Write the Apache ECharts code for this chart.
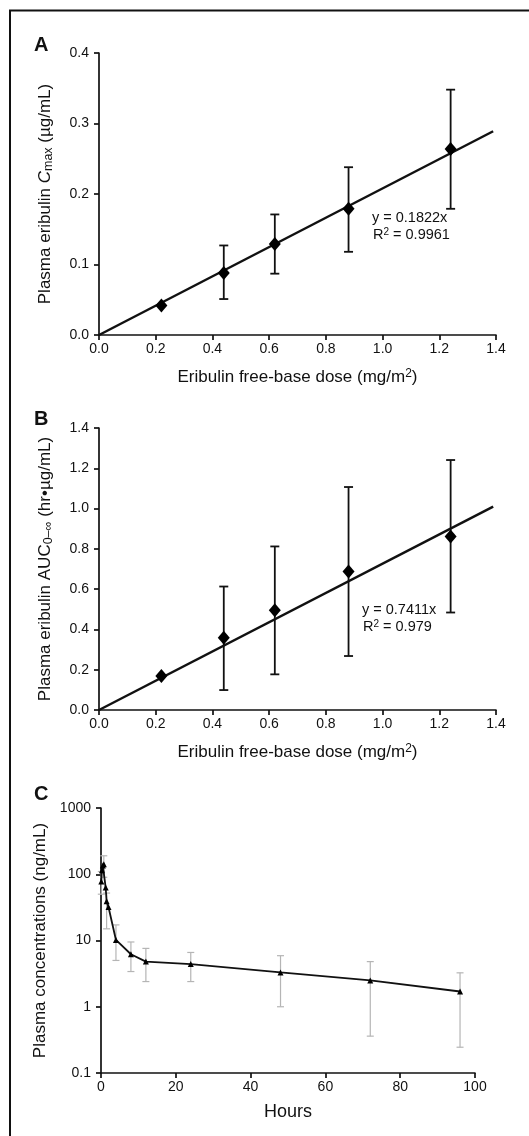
<!DOCTYPE html>
<html>
<head>
<meta charset="utf-8">
<script src="https://cdn.jsdelivr.net/npm/echarts@6/dist/echarts.min.js"></script>
<style>
html,body{margin:0;padding:0;background:#fff;}
#chart{width:529px;height:1136px;}
</style>
</head>
<body>
<div id="chart"></div>
<script>
// ---------- Data ----------
// Panel A: Cmax vs dose
const doseA = [0.22, 0.44, 0.62, 0.88, 1.24];
const cmaxMean = [0.042, 0.088, 0.129, 0.179, 0.264];
const cmaxLow  = [null, 0.051, 0.087, 0.118, 0.179];
const cmaxHigh = [null, 0.127, 0.171, 0.238, 0.348];
const fitLineA = [[0, 0], [1.39, 0.289]];

// Panel B: AUC vs dose
const doseB = [0.22, 0.44, 0.62, 0.88, 1.24];
const aucMean = [0.169, 0.359, 0.495, 0.687, 0.861];
const aucLow  = [null, 0.099, 0.177, 0.268, 0.484];
const aucHigh = [null, 0.613, 0.812, 1.107, 1.241];
const fitLineB = [[0, 0], [1.39, 1.01]];

// Panel C: concentration-time profile
const hoursC = [0.08, 0.25, 0.5, 0.75, 1.25, 1.5, 2, 4, 8, 12, 24, 48, 72, 96];
const concC  = [78, 115, 135, 142, 63, 39, 32, 10.2, 6.2, 4.8, 4.4, 3.3, 2.5, 1.7];
const concLow  = [50, null, null, 90, null, 15, null, 5.0, 3.4, 2.4, 2.4, 1.0, 0.36, 0.245];
const concHigh = [110, null, null, 190, null, 52, null, 17.2, 9.5, 7.6, 6.6, 5.9, 4.8, 3.25];

// Tick labels
const doseTicks = ['0.0','0.2','0.4','0.6','0.8','1.0','1.2','1.4'];
const cTicksY = ['0.1','1','10','100','1000'];

// ---------- Helpers ----------
const FONT = '"Liberation Sans", Arial, Helvetica, sans-serif';
const INK = '#111';
const TICK_FS = 14;
const TITLE_FS = 17;

function pairs(xs, ys){ return xs.map((x,i)=>[x, ys[i]]); }
function errData(xs, lo, hi){
  const out = [];
  xs.forEach((x,i)=>{ if(lo[i]!=null && hi[i]!=null) out.push([x, lo[i], hi[i]]); });
  return out;
}
function errRenderer(color, capHalf, lw){
  return function(params, api){
    const x = api.value(0), lo = api.value(1), hi = api.value(2);
    const a = api.coord([x, lo]), b = api.coord([x, hi]);
    const st = {stroke: color, lineWidth: lw};
    return {type:'group', children:[
      {type:'line', shape:{x1:a[0], y1:a[1], x2:b[0], y2:b[1]}, style:st},
      {type:'line', shape:{x1:a[0]-capHalf, y1:a[1], x2:a[0]+capHalf, y2:a[1]}, style:st},
      {type:'line', shape:{x1:b[0]-capHalf, y1:b[1], x2:b[0]+capHalf, y2:b[1]}, style:st}
    ]};
  };
}
const axisLine = {show:true, onZero:false, lineStyle:{color:INK, width:1.7}};
const axisTick = {show:true, length:5, lineStyle:{color:INK, width:1.7}};
const titleRich = {
  a:{fontSize:TITLE_FS, fontFamily:FONT, color:INK},
  i:{fontSize:TITLE_FS, fontFamily:FONT, color:INK, fontStyle:'italic'},
  sub:{fontSize:12.5, fontFamily:FONT, color:INK, verticalAlign:'bottom', padding:[7,0,0,0]},
  sup:{fontSize:12, fontFamily:FONT, color:INK, verticalAlign:'top', padding:[0,0,7,0]}
};
function doseXAxis(gridIndex){
  return {
    type:'value', gridIndex, min:0, max:1.4, interval:0.2,
    axisLine, axisTick, splitLine:{show:false},
    axisLabel:{color:INK, fontSize:TICK_FS, fontFamily:FONT, margin:7,
      formatter:(v)=>doseTicks[Math.round(v/0.2)]},
    name:'{a|Eribulin free-base dose (mg/m}{sup|2}{a|)}',
    nameLocation:'middle', nameGap:33,
    nameTextStyle:{rich:titleRich}
  };
}
function annot(x, y, l1, l2){
  return [
    {type:'text', left:x, top:y, style:{text:l1, font:'14.5px '+FONT, fill:INK}},
    {type:'text', left:x+1, top:y+17, style:{text:'{a|R}{s|2}{a| = '+l2+'}', rich:{
      a:{fontSize:14.5, fontFamily:FONT, fill:INK, color:INK},
      s:{fontSize:10, fontFamily:FONT, fill:INK, color:INK, verticalAlign:'top', padding:[0,0,5,0]}
    }}}
  ];
}

const chart = echarts.init(document.getElementById('chart'), null, {renderer:'canvas'});

const option = {
  backgroundColor:'#fff',
  animation:false,
  textStyle:{fontFamily:FONT},
  grid:[
    {left:99, top:53, width:397, height:282, outerBoundsMode:'none'},
    {left:99, top:428, width:397, height:282, outerBoundsMode:'none'},
    {left:101, top:808, width:374, height:265, outerBoundsMode:'none'}
  ],
  xAxis:[
    doseXAxis(0),
    doseXAxis(1),
    {type:'value', gridIndex:2, min:0, max:100, interval:20,
      axisLine, axisTick, splitLine:{show:false},
      axisLabel:{color:INK, fontSize:TICK_FS, fontFamily:FONT, margin:7},
      name:'Hours', nameLocation:'middle', nameGap:30,
      nameTextStyle:{fontSize:TITLE_FS+1, fontFamily:FONT, color:INK}}
  ],
  yAxis:[
    {type:'value', gridIndex:0, min:0, max:0.4, interval:0.1,
      axisLine, axisTick, splitLine:{show:false},
      axisLabel:{color:INK, fontSize:TICK_FS, fontFamily:FONT, margin:10, formatter:(v)=>v.toFixed(1)},
      name:'{a|Plasma eribulin }{i|C}{sub|max}{a| (µg/mL)}', nameLocation:'middle', nameGap:44,
      nameTextStyle:{rich:titleRich}},
    {type:'value', gridIndex:1, min:0, max:1.4, interval:0.2,
      axisLine, axisTick, splitLine:{show:false},
      axisLabel:{color:INK, fontSize:TICK_FS, fontFamily:FONT, margin:10, formatter:(v)=>v.toFixed(1)},
      name:'{a|Plasma eribulin AUC}{sub|0–∞}{a| (hr•µg/mL)}', nameLocation:'middle', nameGap:44,
      nameTextStyle:{rich:titleRich}},
    {type:'log', logBase:10, gridIndex:2, min:0.1, max:1000,
      axisLine, axisTick, splitLine:{show:false}, minorTick:{show:false},
      axisLabel:{color:INK, fontSize:TICK_FS, fontFamily:FONT, margin:10,
        formatter:(v)=>{ const k = Math.round(Math.log10(v))+1; return cTicksY[k]; }},
      name:'Plasma concentrations (ng/mL)', nameLocation:'middle', nameGap:44,
      nameTextStyle:{fontSize:TITLE_FS, fontFamily:FONT, color:INK}}
  ],
  series:[
    // Panel A
    {type:'custom', xAxisIndex:0, yAxisIndex:0, renderItem:errRenderer(INK, 4.5, 1.8),
      data:errData(doseA, cmaxLow, cmaxHigh), encode:{x:0, y:[1,2]}, z:2, silent:true},
    {type:'line', xAxisIndex:0, yAxisIndex:0, data:fitLineA, showSymbol:false, symbol:'none',
      lineStyle:{color:INK, width:2.5}, z:3},
    {type:'scatter', xAxisIndex:0, yAxisIndex:0, data:pairs(doseA, cmaxMean),
      symbol:'diamond', symbolSize:[12,14], itemStyle:{color:'#000', opacity:1}, z:4},
    // Panel B
    {type:'custom', xAxisIndex:1, yAxisIndex:1, renderItem:errRenderer(INK, 4.5, 1.8),
      data:errData(doseB, aucLow, aucHigh), encode:{x:0, y:[1,2]}, z:2, silent:true},
    {type:'line', xAxisIndex:1, yAxisIndex:1, data:fitLineB, showSymbol:false, symbol:'none',
      lineStyle:{color:INK, width:2.5}, z:3},
    {type:'scatter', xAxisIndex:1, yAxisIndex:1, data:pairs(doseB, aucMean),
      symbol:'diamond', symbolSize:[12,14], itemStyle:{color:'#000', opacity:1}, z:4},
    // Panel C
    {type:'custom', xAxisIndex:2, yAxisIndex:2, renderItem:errRenderer('#b5b5b5', 3.5, 1.2),
      data:errData(hoursC, concLow, concHigh), encode:{x:0, y:[1,2]}, z:2, silent:true},
    {type:'line', xAxisIndex:2, yAxisIndex:2, data:pairs(hoursC, concC),
      symbol:'triangle', symbolSize:6, showSymbol:true,
      itemStyle:{color:'#000', opacity:1}, lineStyle:{color:INK, width:1.8}, z:3}
  ],
  graphic:[
    {type:'line', shape:{x1:9, y1:10.5, x2:529, y2:10.5}, style:{stroke:'#111', lineWidth:2}},
    {type:'line', shape:{x1:10, y1:10, x2:10, y2:1136}, style:{stroke:'#111', lineWidth:2}},
    {type:'text', left:34, top:35, style:{text:'A', font:'bold 20px '+FONT, fill:'#111'}},
    {type:'text', left:34, top:409, style:{text:'B', font:'bold 20px '+FONT, fill:'#111'}},
    {type:'text', left:34, top:784, style:{text:'C', font:'bold 20px '+FONT, fill:'#111'}},
    ...annot(372, 210, 'y = 0.1822x', '0.9961'),
    ...annot(362, 602, 'y = 0.7411x', '0.979')
  ]
};
chart.setOption(option);
</script>
</body>
</html>
